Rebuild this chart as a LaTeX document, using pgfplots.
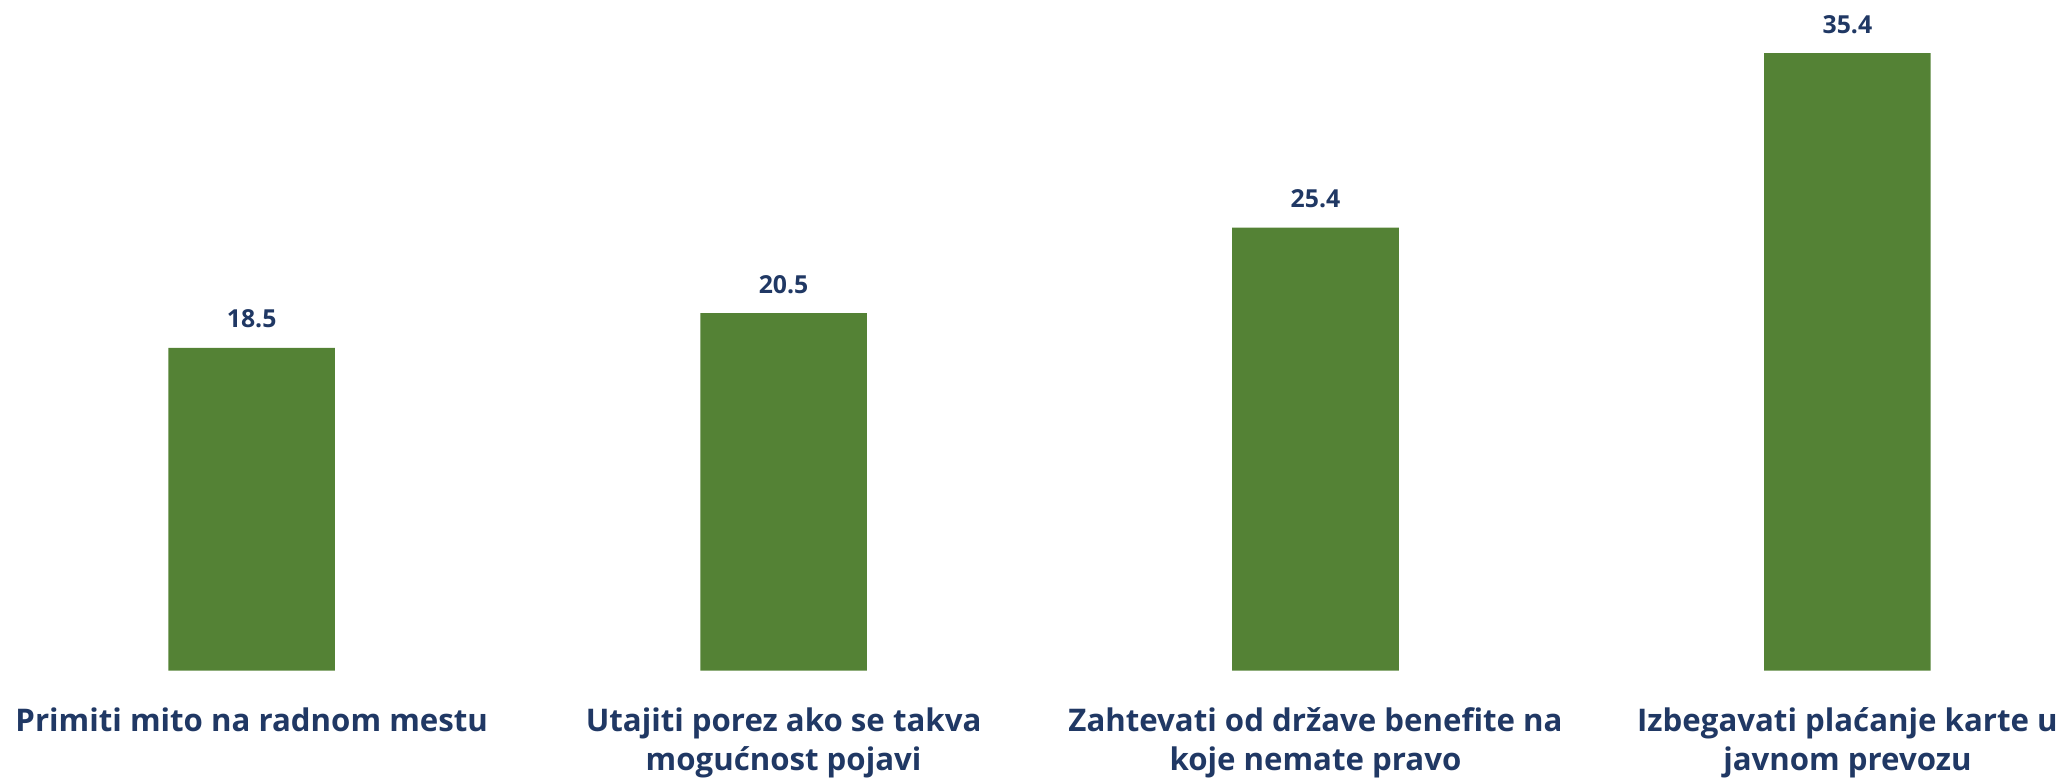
\documentclass[border=0pt]{standalone}
\usepackage{fontspec}
\setmainfont{Open Sans}
\usepackage{pgfplots}
\pgfplotsset{compat=1.18}
\definecolor{bargreen}{HTML}{548235}
\definecolor{txtnavy}{HTML}{203864}
\begin{document}
\begin{tikzpicture}
\path[use as bounding box] (0,0) rectangle (1030pt,391pt);
\begin{axis}[
  at={(0pt,55.65pt)}, anchor=south west,
  scale only axis, width=1030pt, height=335.35pt,
  xmin=-0.4732, xmax=3.3997, ymin=0, ymax=38.44,
  axis line style={draw=none}, tick style={draw=none},
  ytick=\empty,
  xtick={0,1,2,3},
  xticklabels={
    {Primiti mito na radnom mestu},
    {Utajiti porez ako se takva\\mogućnost pojavi},
    {Zahtevati od države benefite na\\koje nemate pravo},
    {Izbegavati plaćanje karte u\\javnom prevozu}},
  xticklabel style={anchor=north, inner sep=0pt, yshift=-14pt, align=center,
    font=\fontsize{15.6}{19.5}\selectfont\bfseries, text=txtnavy},
  ybar, bar width=83.3pt,
  /pgf/number format/assume math mode=true,
  nodes near coords={\pgfmathprintnumber[fixed,precision=1,fixed zerofill]{\pgfplotspointmeta}},
  nodes near coords style={anchor=base, inner sep=0pt, yshift=10pt,
    font=\fontsize{12.4}{15}\selectfont\bfseries, text=txtnavy},
  clip=false,
]
\addplot[fill=bargreen, draw=none] coordinates {(0,18.5) (1,20.5) (2,25.4) (3,35.4)};
\end{axis}
\end{tikzpicture}
\end{document}
